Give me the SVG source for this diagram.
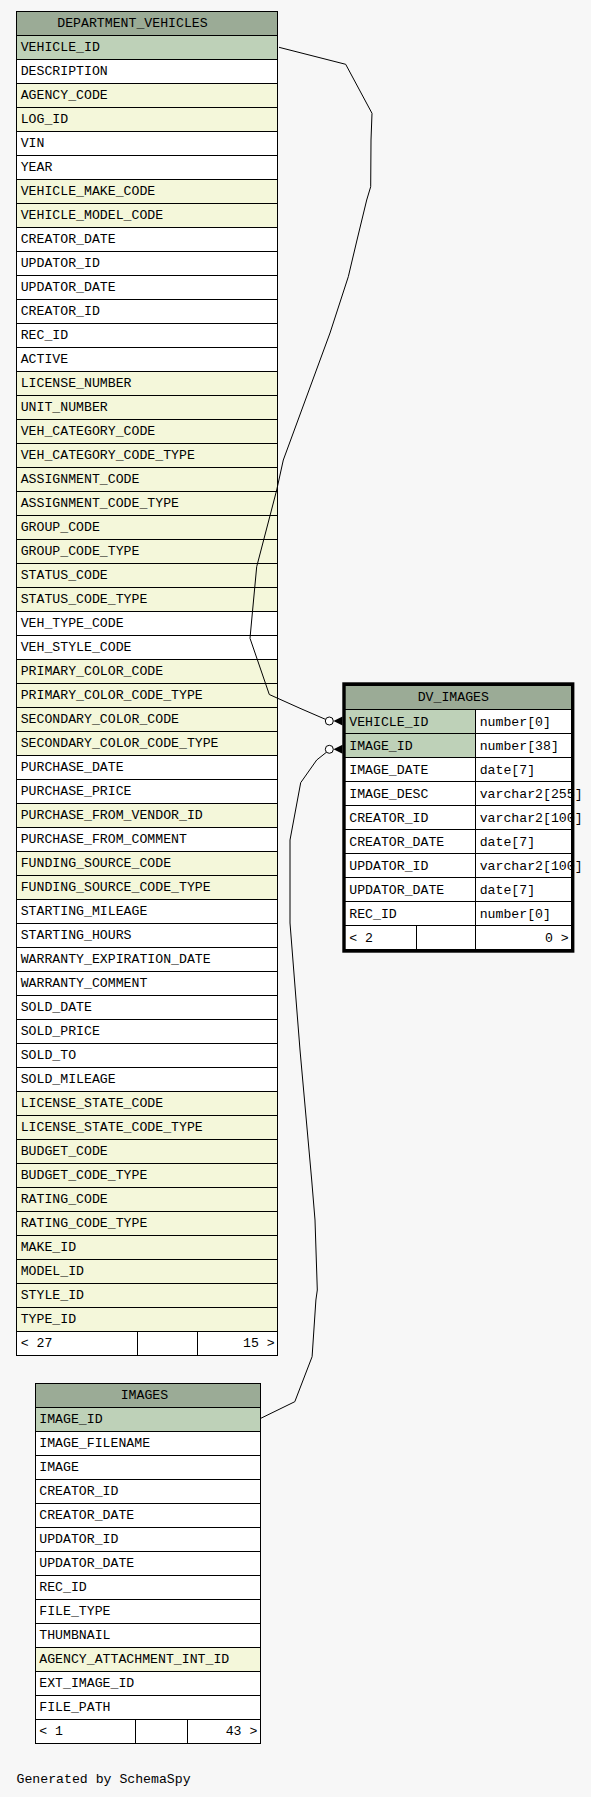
<svg xmlns="http://www.w3.org/2000/svg" width="591" height="1797" viewBox="0 0 591 1797">
<style>
text{font-family:"Liberation Mono","DejaVu Sans Mono",monospace;font-size:13.2px;fill:#000}
.h{fill:#9bab96;stroke:#000;stroke-width:1}
.p{fill:#bed1b8;stroke:#000;stroke-width:1}
.y{fill:#f4f7da;stroke:#000;stroke-width:1}
.w{fill:#ffffff;stroke:#000;stroke-width:1}
.e{fill:none;stroke:#000;stroke-width:1}
.c{fill:#ffffff;stroke:#000;stroke-width:1}
</style>
<rect x="0" y="0" width="591" height="1797" fill="#f7f7f7"/>
<g id="DEPARTMENT_VEHICLES">
<rect class="h" x="16.5" y="11.5" width="261" height="24"/>
<text x="57.3" y="26.7">DEPARTMENT_VEHICLES</text>
<rect class="p" x="16.5" y="35.5" width="261" height="24"/><text x="20.7" y="50.7">VEHICLE_ID</text>
<rect class="w" x="16.5" y="59.5" width="261" height="24"/><text x="20.7" y="74.7">DESCRIPTION</text>
<rect class="y" x="16.5" y="83.5" width="261" height="24"/><text x="20.7" y="98.7">AGENCY_CODE</text>
<rect class="y" x="16.5" y="107.5" width="261" height="24"/><text x="20.7" y="122.7">LOG_ID</text>
<rect class="w" x="16.5" y="131.5" width="261" height="24"/><text x="20.7" y="146.7">VIN</text>
<rect class="w" x="16.5" y="155.5" width="261" height="24"/><text x="20.7" y="170.7">YEAR</text>
<rect class="y" x="16.5" y="179.5" width="261" height="24"/><text x="20.7" y="194.7">VEHICLE_MAKE_CODE</text>
<rect class="y" x="16.5" y="203.5" width="261" height="24"/><text x="20.7" y="218.7">VEHICLE_MODEL_CODE</text>
<rect class="w" x="16.5" y="227.5" width="261" height="24"/><text x="20.7" y="242.7">CREATOR_DATE</text>
<rect class="w" x="16.5" y="251.5" width="261" height="24"/><text x="20.7" y="266.7">UPDATOR_ID</text>
<rect class="w" x="16.5" y="275.5" width="261" height="24"/><text x="20.7" y="290.7">UPDATOR_DATE</text>
<rect class="w" x="16.5" y="299.5" width="261" height="24"/><text x="20.7" y="314.7">CREATOR_ID</text>
<rect class="w" x="16.5" y="323.5" width="261" height="24"/><text x="20.7" y="338.7">REC_ID</text>
<rect class="w" x="16.5" y="347.5" width="261" height="24"/><text x="20.7" y="362.7">ACTIVE</text>
<rect class="y" x="16.5" y="371.5" width="261" height="24"/><text x="20.7" y="386.7">LICENSE_NUMBER</text>
<rect class="y" x="16.5" y="395.5" width="261" height="24"/><text x="20.7" y="410.7">UNIT_NUMBER</text>
<rect class="y" x="16.5" y="419.5" width="261" height="24"/><text x="20.7" y="434.7">VEH_CATEGORY_CODE</text>
<rect class="y" x="16.5" y="443.5" width="261" height="24"/><text x="20.7" y="458.7">VEH_CATEGORY_CODE_TYPE</text>
<rect class="y" x="16.5" y="467.5" width="261" height="24"/><text x="20.7" y="482.7">ASSIGNMENT_CODE</text>
<rect class="y" x="16.5" y="491.5" width="261" height="24"/><text x="20.7" y="506.7">ASSIGNMENT_CODE_TYPE</text>
<rect class="y" x="16.5" y="515.5" width="261" height="24"/><text x="20.7" y="530.7">GROUP_CODE</text>
<rect class="y" x="16.5" y="539.5" width="261" height="24"/><text x="20.7" y="554.7">GROUP_CODE_TYPE</text>
<rect class="y" x="16.5" y="563.5" width="261" height="24"/><text x="20.7" y="578.7">STATUS_CODE</text>
<rect class="y" x="16.5" y="587.5" width="261" height="24"/><text x="20.7" y="602.7">STATUS_CODE_TYPE</text>
<rect class="w" x="16.5" y="611.5" width="261" height="24"/><text x="20.7" y="626.7">VEH_TYPE_CODE</text>
<rect class="w" x="16.5" y="635.5" width="261" height="24"/><text x="20.7" y="650.7">VEH_STYLE_CODE</text>
<rect class="y" x="16.5" y="659.5" width="261" height="24"/><text x="20.7" y="674.7">PRIMARY_COLOR_CODE</text>
<rect class="y" x="16.5" y="683.5" width="261" height="24"/><text x="20.7" y="698.7">PRIMARY_COLOR_CODE_TYPE</text>
<rect class="y" x="16.5" y="707.5" width="261" height="24"/><text x="20.7" y="722.7">SECONDARY_COLOR_CODE</text>
<rect class="y" x="16.5" y="731.5" width="261" height="24"/><text x="20.7" y="746.7">SECONDARY_COLOR_CODE_TYPE</text>
<rect class="w" x="16.5" y="755.5" width="261" height="24"/><text x="20.7" y="770.7">PURCHASE_DATE</text>
<rect class="w" x="16.5" y="779.5" width="261" height="24"/><text x="20.7" y="794.7">PURCHASE_PRICE</text>
<rect class="y" x="16.5" y="803.5" width="261" height="24"/><text x="20.7" y="818.7">PURCHASE_FROM_VENDOR_ID</text>
<rect class="w" x="16.5" y="827.5" width="261" height="24"/><text x="20.7" y="842.7">PURCHASE_FROM_COMMENT</text>
<rect class="y" x="16.5" y="851.5" width="261" height="24"/><text x="20.7" y="866.7">FUNDING_SOURCE_CODE</text>
<rect class="y" x="16.5" y="875.5" width="261" height="24"/><text x="20.7" y="890.7">FUNDING_SOURCE_CODE_TYPE</text>
<rect class="w" x="16.5" y="899.5" width="261" height="24"/><text x="20.7" y="914.7">STARTING_MILEAGE</text>
<rect class="w" x="16.5" y="923.5" width="261" height="24"/><text x="20.7" y="938.7">STARTING_HOURS</text>
<rect class="w" x="16.5" y="947.5" width="261" height="24"/><text x="20.7" y="962.7">WARRANTY_EXPIRATION_DATE</text>
<rect class="w" x="16.5" y="971.5" width="261" height="24"/><text x="20.7" y="986.7">WARRANTY_COMMENT</text>
<rect class="w" x="16.5" y="995.5" width="261" height="24"/><text x="20.7" y="1010.7">SOLD_DATE</text>
<rect class="w" x="16.5" y="1019.5" width="261" height="24"/><text x="20.7" y="1034.7">SOLD_PRICE</text>
<rect class="w" x="16.5" y="1043.5" width="261" height="24"/><text x="20.7" y="1058.7">SOLD_TO</text>
<rect class="w" x="16.5" y="1067.5" width="261" height="24"/><text x="20.7" y="1082.7">SOLD_MILEAGE</text>
<rect class="y" x="16.5" y="1091.5" width="261" height="24"/><text x="20.7" y="1106.7">LICENSE_STATE_CODE</text>
<rect class="y" x="16.5" y="1115.5" width="261" height="24"/><text x="20.7" y="1130.7">LICENSE_STATE_CODE_TYPE</text>
<rect class="y" x="16.5" y="1139.5" width="261" height="24"/><text x="20.7" y="1154.7">BUDGET_CODE</text>
<rect class="y" x="16.5" y="1163.5" width="261" height="24"/><text x="20.7" y="1178.7">BUDGET_CODE_TYPE</text>
<rect class="y" x="16.5" y="1187.5" width="261" height="24"/><text x="20.7" y="1202.7">RATING_CODE</text>
<rect class="y" x="16.5" y="1211.5" width="261" height="24"/><text x="20.7" y="1226.7">RATING_CODE_TYPE</text>
<rect class="y" x="16.5" y="1235.5" width="261" height="24"/><text x="20.7" y="1250.7">MAKE_ID</text>
<rect class="y" x="16.5" y="1259.5" width="261" height="24"/><text x="20.7" y="1274.7">MODEL_ID</text>
<rect class="y" x="16.5" y="1283.5" width="261" height="24"/><text x="20.7" y="1298.7">STYLE_ID</text>
<rect class="y" x="16.5" y="1307.5" width="261" height="24"/><text x="20.7" y="1322.7">TYPE_ID</text>
<rect class="w" x="16.5" y="1331.5" width="121" height="24"/>
<rect class="w" x="137.5" y="1331.5" width="60" height="24"/>
<rect class="w" x="197.5" y="1331.5" width="80" height="24"/>
<text x="20.7" y="1346.7">&lt; 27</text>
<text x="274.7" y="1346.7" text-anchor="end">15 &gt;</text>
</g>
<g id="DV_IMAGES">
<rect x="344" y="684" width="228.7" height="267" fill="#ffffff"/>
<rect class="h" x="344" y="685.5" width="228.7" height="24"/>
<text x="417.7" y="700.7">DV_IMAGES</text>
<rect class="p" x="344" y="709.5" width="131.5" height="24"/><rect class="w" x="475.5" y="709.5" width="97" height="24"/>
<text x="349.3" y="725.9">VEHICLE_ID</text><text x="479.7" y="725.9">number[0]</text>
<rect class="p" x="344" y="733.5" width="131.5" height="24"/><rect class="w" x="475.5" y="733.5" width="97" height="24"/>
<text x="349.3" y="749.9">IMAGE_ID</text><text x="479.7" y="749.9">number[38]</text>
<rect class="w" x="344" y="757.5" width="131.5" height="24"/><rect class="w" x="475.5" y="757.5" width="97" height="24"/>
<text x="349.3" y="773.9">IMAGE_DATE</text><text x="479.7" y="773.9">date[7]</text>
<rect class="w" x="344" y="781.5" width="131.5" height="24"/><rect class="w" x="475.5" y="781.5" width="97" height="24"/>
<text x="349.3" y="797.9">IMAGE_DESC</text><text x="479.7" y="797.9">varchar2[255]</text>
<rect class="w" x="344" y="805.5" width="131.5" height="24"/><rect class="w" x="475.5" y="805.5" width="97" height="24"/>
<text x="349.3" y="821.9">CREATOR_ID</text><text x="479.7" y="821.9">varchar2[100]</text>
<rect class="w" x="344" y="829.5" width="131.5" height="24"/><rect class="w" x="475.5" y="829.5" width="97" height="24"/>
<text x="349.3" y="845.9">CREATOR_DATE</text><text x="479.7" y="845.9">date[7]</text>
<rect class="w" x="344" y="853.5" width="131.5" height="24"/><rect class="w" x="475.5" y="853.5" width="97" height="24"/>
<text x="349.3" y="869.9">UPDATOR_ID</text><text x="479.7" y="869.9">varchar2[100]</text>
<rect class="w" x="344" y="877.5" width="131.5" height="24"/><rect class="w" x="475.5" y="877.5" width="97" height="24"/>
<text x="349.3" y="893.9">UPDATOR_DATE</text><text x="479.7" y="893.9">date[7]</text>
<rect class="w" x="344" y="901.5" width="131.5" height="24"/><rect class="w" x="475.5" y="901.5" width="97" height="24"/>
<text x="349.3" y="917.9">REC_ID</text><text x="479.7" y="917.9">number[0]</text>
<rect class="w" x="344" y="925.5" width="72.5" height="24"/>
<rect class="w" x="416.5" y="925.5" width="59" height="24"/>
<rect class="w" x="475.5" y="925.5" width="97" height="24"/>
<text x="349.3" y="941.9">&lt; 2</text>
<text x="568.7" y="941.9" text-anchor="end">0 &gt;</text>
<rect x="344" y="684" width="228.7" height="267" fill="none" stroke="#000" stroke-width="3.4"/>
</g>
<g id="IMAGES">
<rect class="h" x="35.5" y="1383.5" width="225" height="24"/>
<text x="120.7" y="1399">IMAGES</text>
<rect class="p" x="35.5" y="1407.5" width="225" height="24"/><text x="39.3" y="1423.1">IMAGE_ID</text>
<rect class="w" x="35.5" y="1431.5" width="225" height="24"/><text x="39.3" y="1447.1">IMAGE_FILENAME</text>
<rect class="w" x="35.5" y="1455.5" width="225" height="24"/><text x="39.3" y="1471.1">IMAGE</text>
<rect class="w" x="35.5" y="1479.5" width="225" height="24"/><text x="39.3" y="1495.1">CREATOR_ID</text>
<rect class="w" x="35.5" y="1503.5" width="225" height="24"/><text x="39.3" y="1519.1">CREATOR_DATE</text>
<rect class="w" x="35.5" y="1527.5" width="225" height="24"/><text x="39.3" y="1543.1">UPDATOR_ID</text>
<rect class="w" x="35.5" y="1551.5" width="225" height="24"/><text x="39.3" y="1567.1">UPDATOR_DATE</text>
<rect class="w" x="35.5" y="1575.5" width="225" height="24"/><text x="39.3" y="1591.1">REC_ID</text>
<rect class="w" x="35.5" y="1599.5" width="225" height="24"/><text x="39.3" y="1615.1">FILE_TYPE</text>
<rect class="w" x="35.5" y="1623.5" width="225" height="24"/><text x="39.3" y="1639.1">THUMBNAIL</text>
<rect class="y" x="35.5" y="1647.5" width="225" height="24"/><text x="39.3" y="1663.1">AGENCY_ATTACHMENT_INT_ID</text>
<rect class="w" x="35.5" y="1671.5" width="225" height="24"/><text x="39.3" y="1687.1">EXT_IMAGE_ID</text>
<rect class="w" x="35.5" y="1695.5" width="225" height="24"/><text x="39.3" y="1711.1">FILE_PATH</text>
<rect class="w" x="35.5" y="1719.5" width="100" height="24"/>
<rect class="w" x="135.5" y="1719.5" width="52" height="24"/>
<rect class="w" x="187.5" y="1719.5" width="73" height="24"/>
<text x="39.3" y="1735.1">&lt; 1</text>
<text x="257.3" y="1735.1" text-anchor="end">43 &gt;</text>
</g>
<g id="connectors">
<polyline class="e" points="279,47.3 345.7,64.3 372,113.3 371,140 370.7,186.7 366.7,200 357,240 348.3,276.7 330,333 283.3,460 276.7,490 256.7,566.7 251.7,620 250,638.3 269.3,694.5 300,708.3 325.6,719.4"/>
<circle class="c" cx="329.3" cy="721" r="4"/>
<polygon points="333.5,721 342.5,716.5 342.5,725.5" fill="#000"/>
<polyline class="e" points="326.5,752.2 316.7,760 300.7,782.7 290,840 290,923 300,1050 311.7,1180 315,1220 317.3,1290 315.9,1300 312.1,1356.7 294.8,1401.7 260.8,1418.3"/>
<circle class="c" cx="329.3" cy="749.3" r="4"/>
<polygon points="333.5,749.3 342.5,744.8 342.5,753.8" fill="#000"/>
</g>
<text x="16.5" y="1783.3">Generated by SchemaSpy</text>
</svg>
